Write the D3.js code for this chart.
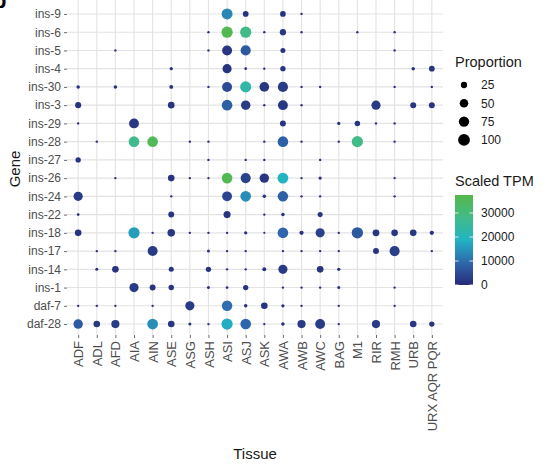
<!DOCTYPE html>
<html>
<head>
<meta charset="utf-8">
<script src="https://cdn.jsdelivr.net/npm/d3@7"></script>
<style>
  body { margin: 0; background: #fff; }
  svg text { font-family: "Liberation Sans", Arial, sans-serif; }
</style>
</head>
<body>
<div id="chart"></div>
<script>
// Tissues along x, genes along y (top to bottom)
var tissues = ['ADF', 'ADL', 'AFD', 'AIA', 'AIN', 'ASE', 'ASG', 'ASH', 'ASI', 'ASJ',
  'ASK', 'AWA', 'AWB', 'AWC', 'BAG', 'M1', 'RIR', 'RMH', 'URB', 'URX AQR PQR'];
var genes = ['ins-9', 'ins-6', 'ins-5', 'ins-4', 'ins-30', 'ins-3', 'ins-29', 'ins-28', 'ins-27',
  'ins-26', 'ins-24', 'ins-22', 'ins-18', 'ins-17', 'ins-14', 'ins-1', 'daf-7', 'daf-28'];

// Proportion of cells expressing (0 = no dot), one row per gene
var proportion = [
  [0, 0, 0, 0, 0, 0, 0, 0, 85, 20, 0, 20, 2, 0, 0, 0, 0, 0, 0, 0],
  [0, 0, 0, 0, 0, 0, 0, 2, 90, 90, 2, 25, 2, 0, 0, 2, 0, 2, 0, 0],
  [0, 0, 2, 0, 0, 0, 0, 2, 70, 72, 0, 15, 0, 0, 0, 0, 0, 2, 0, 0],
  [0, 0, 0, 0, 0, 5, 0, 0, 58, 3, 2, 17, 0, 0, 0, 0, 0, 0, 6, 20],
  [6, 0, 6, 0, 0, 8, 0, 2, 70, 88, 65, 72, 2, 2, 0, 0, 0, 2, 0, 2],
  [23, 0, 0, 0, 0, 28, 0, 0, 80, 62, 2, 68, 2, 0, 0, 0, 58, 0, 22, 22],
  [2, 0, 0, 68, 0, 0, 0, 0, 0, 0, 0, 22, 0, 0, 5, 18, 2, 2, 0, 0],
  [0, 2, 0, 80, 80, 0, 2, 2, 0, 0, 2, 80, 2, 0, 2, 90, 0, 2, 0, 0],
  [17, 0, 0, 0, 0, 0, 0, 2, 0, 2, 2, 0, 0, 2, 0, 0, 0, 0, 0, 0],
  [0, 0, 2, 0, 0, 28, 2, 2, 80, 72, 62, 82, 2, 5, 0, 0, 0, 2, 0, 0],
  [58, 0, 0, 0, 0, 2, 0, 0, 68, 80, 6, 78, 2, 2, 0, 0, 0, 2, 0, 0],
  [3, 0, 0, 0, 0, 22, 0, 0, 33, 0, 2, 6, 0, 15, 0, 0, 0, 0, 0, 0],
  [28, 0, 0, 90, 2, 38, 2, 2, 2, 5, 1.5, 80, 10, 58, 2, 92, 30, 28, 28, 10],
  [0, 2, 2, 0, 70, 0, 0, 4, 2, 2, 0, 2, 2, 2, 2, 0, 22, 72, 0, 2],
  [0, 4, 28, 0, 0, 15, 0, 17, 2, 2, 8, 58, 0, 28, 5, 0, 0, 0, 0, 0],
  [0, 0, 0, 58, 22, 18, 0, 4, 3, 17, 0, 2, 2, 2, 4, 0, 0, 2, 0, 0],
  [2, 2, 2, 0, 2, 0, 58, 0, 78, 6, 28, 5, 2, 0, 2, 0, 0, 2, 0, 0],
  [62, 28, 45, 0, 82, 28, 4, 2, 90, 80, 2, 6, 45, 68, 2, 0, 45, 0, 28, 17]
];

// Scaled TPM, same layout
var tpm = [
  [0, 0, 0, 0, 0, 0, 0, 0, 13000, 1500, 0, 1500, 800, 0, 0, 0, 0, 0, 0, 0],
  [0, 0, 0, 0, 0, 0, 0, 800, 36000, 28000, 800, 2000, 800, 0, 0, 800, 0, 800, 0, 0],
  [0, 0, 800, 0, 0, 0, 0, 800, 2000, 7000, 0, 1500, 0, 0, 0, 0, 0, 800, 0, 0],
  [0, 0, 0, 0, 0, 1000, 0, 0, 1500, 800, 800, 1500, 0, 0, 0, 0, 0, 0, 1000, 1500],
  [1000, 0, 1000, 0, 0, 1000, 0, 800, 5000, 23000, 2000, 2500, 800, 800, 0, 0, 0, 800, 0, 800],
  [1500, 0, 0, 0, 0, 1500, 0, 0, 8000, 2500, 800, 2000, 800, 0, 0, 0, 2500, 0, 1500, 1500],
  [800, 0, 0, 2000, 0, 0, 0, 0, 0, 0, 0, 1500, 0, 0, 1000, 1500, 800, 800, 0, 0],
  [0, 800, 0, 27000, 35000, 0, 800, 800, 0, 0, 800, 8000, 800, 0, 800, 28000, 0, 800, 0, 0],
  [1500, 0, 0, 0, 0, 0, 0, 800, 0, 800, 800, 0, 0, 800, 0, 0, 0, 0, 0, 0],
  [0, 0, 800, 0, 0, 1500, 800, 800, 36000, 3500, 2000, 19000, 800, 1000, 0, 0, 0, 800, 0, 0],
  [2500, 0, 0, 0, 0, 800, 0, 0, 4000, 14000, 1000, 8000, 800, 800, 0, 0, 0, 800, 0, 0],
  [800, 0, 0, 0, 0, 1500, 0, 0, 1500, 0, 800, 1000, 0, 1500, 0, 0, 0, 0, 0, 0],
  [1500, 0, 0, 16000, 800, 2000, 800, 800, 800, 1000, 800, 9000, 1000, 3500, 800, 7000, 2000, 2000, 2000, 1000],
  [0, 800, 800, 0, 2500, 0, 0, 1000, 800, 800, 0, 800, 800, 800, 800, 0, 1500, 3000, 0, 800],
  [0, 1000, 1500, 0, 0, 1500, 0, 1500, 800, 800, 1000, 2500, 0, 1500, 1000, 0, 0, 0, 0, 0],
  [0, 0, 0, 2500, 1500, 1500, 0, 1000, 1000, 1500, 0, 800, 800, 800, 1000, 0, 0, 800, 0, 0],
  [800, 800, 800, 0, 800, 0, 2500, 0, 10000, 1000, 1500, 1000, 800, 0, 800, 0, 0, 800, 0, 0],
  [7000, 2000, 2500, 0, 14000, 2000, 1000, 800, 18000, 9000, 800, 1000, 2500, 2500, 800, 0, 2500, 0, 2000, 1500]
];

var sizeBreaks = [25, 50, 75, 100];
var colorBreaks = [0, 10000, 20000, 30000];
var tpmMax = 37500;

var width = 550, height = 466;
var panel = { left: 67, right: 443, top: 3, bottom: 335 };

var svg = d3.select('#chart').append('svg')
  .attr('width', width)
  .attr('height', height);

var x = d3.scalePoint().domain(tissues).range([panel.left, panel.right]).padding(0.6);
var y = d3.scalePoint().domain(genes).range([panel.top, panel.bottom]).padding(0.6);

// ggplot-like size scale: radius linear in sqrt(proportion)
var rScale = d3.scaleLinear().domain([1, 10]).range([0.95, 5.9]);
function radius(p) { return Math.max(0.8, rScale(Math.sqrt(p))); }

var colorStops = ['#282a78', '#2e69ad', '#21b4c2', '#42bb88', '#55b848'];
var color = d3.scaleLinear()
  .domain(colorStops.map(function(d, i) { return i / (colorStops.length - 1) * tpmMax; }))
  .range(colorStops)
  .clamp(true);

// partial panel letter in the corner
svg.append('text')
  .attr('x', -7).attr('y', 8)
  .attr('font-size', 22).attr('font-weight', 'bold')
  .text('b');

// grid lines
var grid = svg.append('g');
grid.selectAll('.vgrid').data(tissues).enter().append('line')
  .attr('x1', function(d) { return x(d); }).attr('x2', function(d) { return x(d); })
  .attr('y1', 0).attr('y2', panel.bottom)
  .attr('stroke', '#e3e3e3').attr('stroke-width', 1.1);
grid.selectAll('.hgrid').data(genes).enter().append('line')
  .attr('y1', function(d) { return y(d); }).attr('y2', function(d) { return y(d); })
  .attr('x1', panel.left).attr('x2', panel.right)
  .attr('stroke', '#e3e3e3').attr('stroke-width', 1.1);

// axes
var yAxis = svg.append('g')
  .attr('transform', 'translate(' + panel.left + ',0)')
  .call(d3.axisLeft(y).tickSize(3).tickPadding(3));
var xAxis = svg.append('g')
  .attr('transform', 'translate(0,' + panel.bottom + ')')
  .call(d3.axisBottom(x).tickSize(3).tickPadding(3));
[yAxis, xAxis].forEach(function(ax) {
  ax.select('.domain').remove();
  ax.selectAll('.tick line').attr('stroke', '#444').attr('stroke-width', 0.8);
  ax.selectAll('.tick text').attr('fill', '#4d4d4d').attr('font-size', 12)
    .attr('font-family', '"Liberation Sans", Arial, sans-serif');
});
xAxis.selectAll('.tick text')
  .attr('font-size', 13)
  .attr('transform', 'rotate(-90)')
  .attr('text-anchor', 'end')
  .attr('x', -6).attr('y', 0).attr('dy', '0.35em');

// axis titles
svg.append('text')
  .attr('x', (panel.left + panel.right) / 2).attr('y', 459)
  .attr('text-anchor', 'middle').attr('font-size', 15).attr('fill', '#1a1a1a')
  .text('Tissue');
svg.append('text')
  .attr('transform', 'translate(20,' + (panel.top + panel.bottom) / 2 + ') rotate(-90)')
  .attr('text-anchor', 'middle').attr('font-size', 15).attr('fill', '#1a1a1a')
  .text('Gene');

// dots
var cells = [];
genes.forEach(function(g, i) {
  tissues.forEach(function(t, j) {
    if (proportion[i][j] > 0) {
      cells.push({ gene: g, tissue: t, p: proportion[i][j], tpm: tpm[i][j] });
    }
  });
});
svg.append('g').selectAll('circle').data(cells).enter().append('circle')
  .attr('cx', function(d) { return x(d.tissue); })
  .attr('cy', function(d) { return y(d.gene); })
  .attr('r', function(d) { return radius(d.p); })
  .attr('fill', function(d) { return color(d.tpm); });

// size legend
var legX = 455;
svg.append('text').attr('x', legX).attr('y', 67)
  .attr('font-size', 14.5).attr('fill', '#1a1a1a').text('Proportion');
var sizeLeg = svg.append('g').selectAll('g').data(sizeBreaks).enter().append('g')
  .attr('transform', function(d, i) { return 'translate(' + (legX + 9) + ',' + (85 + i * 18.3) + ')'; });
sizeLeg.append('circle').attr('r', function(d) { return radius(d); }).attr('fill', '#000');
sizeLeg.append('text').attr('x', 17).attr('dy', '0.35em')
  .attr('font-size', 12).attr('fill', '#1a1a1a')
  .text(function(d) { return d; });

// colour bar legend
svg.append('text').attr('x', legX).attr('y', 186)
  .attr('font-size', 14.5).attr('fill', '#1a1a1a').text('Scaled TPM');
var barTop = 195, barBottom = 285, barW = 18;
var barScale = d3.scaleLinear().domain([0, tpmMax]).range([barBottom, barTop]);
var grad = svg.append('defs').append('linearGradient')
  .attr('id', 'tpmGrad').attr('x1', 0).attr('x2', 0).attr('y1', 1).attr('y2', 0);
d3.range(0, 1.0001, 0.05).forEach(function(f) {
  grad.append('stop').attr('offset', f).attr('stop-color', color(f * tpmMax));
});
svg.append('rect')
  .attr('x', legX).attr('y', barTop).attr('width', barW).attr('height', barBottom - barTop)
  .attr('fill', 'url(#tpmGrad)');
var cb = svg.append('g').selectAll('g').data(colorBreaks).enter().append('g');
cb.append('line')
  .attr('x1', legX).attr('x2', legX + 3.5)
  .attr('y1', function(d) { return barScale(d); }).attr('y2', function(d) { return barScale(d); })
  .attr('stroke', '#fff').attr('stroke-width', 0.8);
cb.append('line')
  .attr('x1', legX + barW - 3.5).attr('x2', legX + barW)
  .attr('y1', function(d) { return barScale(d); }).attr('y2', function(d) { return barScale(d); })
  .attr('stroke', '#fff').attr('stroke-width', 0.8);
cb.append('text')
  .attr('x', legX + 26).attr('y', function(d) { return barScale(d); }).attr('dy', '0.35em')
  .attr('font-size', 12).attr('fill', '#1a1a1a')
  .text(function(d) { return d; });
</script>
</body>
</html>
